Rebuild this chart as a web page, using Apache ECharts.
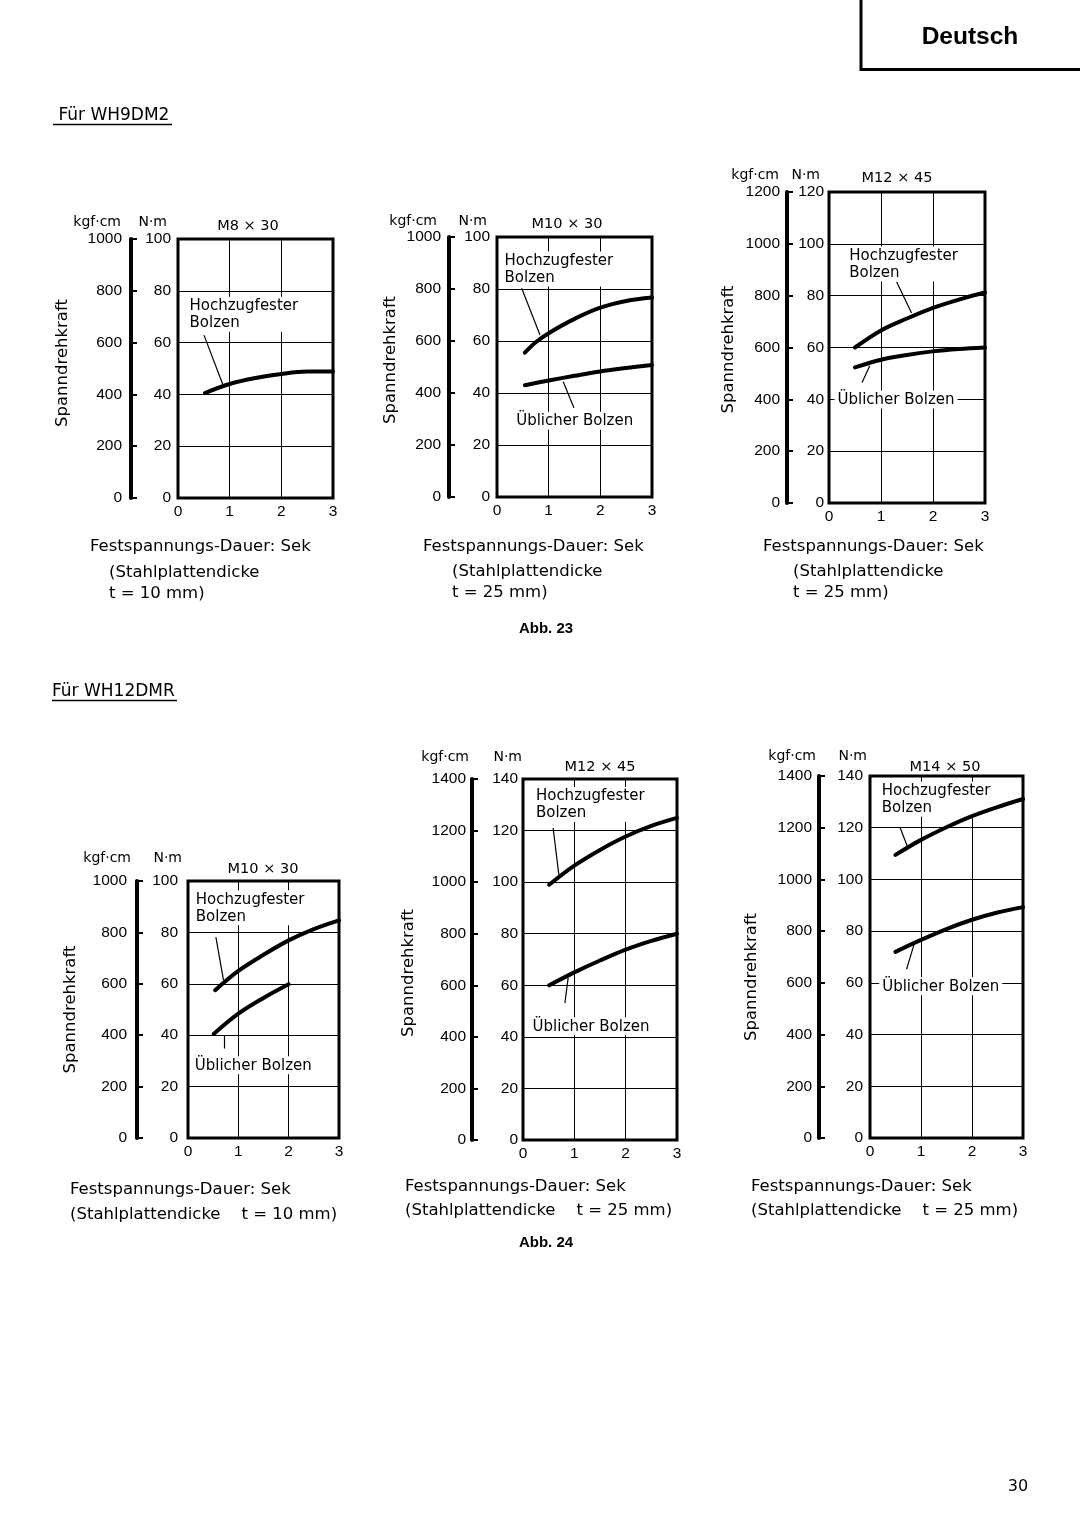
<!DOCTYPE html>
<html><head><meta charset="utf-8">
<script src="https://cdn.jsdelivr.net/npm/echarts@6/dist/echarts.min.js"></script>
<style>html,body{margin:0;padding:0;background:#fff}#c{width:1080px;height:1529px}</style>
</head><body><div id="c"></div><script>
// ---------- DATA ----------
const xMax = 3, xStep = 1;
const nmStep = 20, kgfStep = 200;
const panelTitles = ['M8 × 30', 'M10 × 30', 'M12 × 45', 'M10 × 30', 'M12 × 45', 'M14 × 50'];
const nmMax  = [100, 100, 120, 100, 140, 140];
const kgfMax = [1000, 1000, 1200, 1000, 1400, 1400];
const plateThickness = ['t = 10 mm)', 't = 25 mm)', 't = 25 mm)', 't = 10 mm)', 't = 25 mm)', 't = 25 mm)'];
const curveNames = ['Hochzugfester\nBolzen', 'Üblicher Bolzen'];

// Abb. 23 – Für WH9DM2  (x: Sek, y: N·m)
const wh9_m8x30_hoch  = [[0.52,40.5],[1,44],[1.5,46.3],[2,47.9],[2.5,48.8],[3,48.8]];
const wh9_m10x30_hoch = [[0.54,55.5],[0.75,59.5],[1,63],[1.5,68.5],[2,72.8],[2.5,75.4],[3,76.7]];
const wh9_m10x30_ueb  = [[0.54,43],[1,44.8],[1.5,46.6],[2,48.3],[2.5,49.6],[3,50.8]];
const wh9_m12x45_hoch = [[0.5,60],[1,66.6],[1.5,71.2],[2,75.3],[2.5,78.5],[3,81.2]];
const wh9_m12x45_ueb  = [[0.5,52.3],[1,55.3],[1.5,57.1],[2,58.5],[2.5,59.4],[3,60]];
// Abb. 24 – Für WH12DMR
const wh12_m10x30_hoch = [[0.54,57.5],[1,65],[1.5,71.3],[2,76.9],[2.5,81.3],[3,84.7]];
const wh12_m10x30_ueb  = [[0.51,40.5],[1,48.4],[1.5,54.5],[2,59.8]];
const wh12_m12x45_hoch = [[0.51,99],[1,106.4],[1.5,112.5],[2,117.7],[2.5,121.8],[3,124.9]];
const wh12_m12x45_ueb  = [[0.51,60],[1,65],[1.5,69.6],[2,73.8],[2.5,77.2],[3,80]];
const wh12_m14x50_hoch = [[0.5,109.5],[1,115.3],[1.5,120.2],[2,124.5],[2.5,128],[3,131.1]];
const wh12_m14x50_ueb  = [[0.5,72],[1,76.6],[1.5,80.8],[2,84.4],[2.5,87.2],[3,89.3]];

const panelSeries = [
  [wh9_m8x30_hoch],
  [wh9_m10x30_hoch, wh9_m10x30_ueb],
  [wh9_m12x45_hoch, wh9_m12x45_ueb],
  [wh12_m10x30_hoch, wh12_m10x30_ueb],
  [wh12_m12x45_hoch, wh12_m12x45_ueb],
  [wh12_m14x50_hoch, wh12_m14x50_ueb]
];

// ---------- LAYOUT ----------
const fontText = '"DejaVu Sans", sans-serif';
const fontNum = '"Liberation Sans", Arial, sans-serif';
const layout = [
  {box:[178,239,155,259], kgfOff:47, kgfM:9,  nmM:7,  unitY:222, kgfPad:10, nmPad:11, spGap:60, spPad:[0,0,0,11], title:[248,226],
   xt:{x1:90, x2:109, y:[547,573,594]},
   ann:[{label:[0.174,77.5], leader:[[0.503,62.9],[0.871,43.6]]}]},
  {box:[497,237,155,260], kgfOff:48, kgfM:8,  nmM:7,  unitY:221, kgfPad:12, nmPad:10, spGap:50, spPad:[0,0,0,14], title:[567,224],
   xt:{x1:423, x2:452, y:[547,572,593]},
   ann:[{label:[0.097,94.2], leader:[[0.478,80.3],[0.832,62.3]]},
        {label:[0.323,32.6], leader:[[1.283,44.3],[1.49,34.2]]}]},
  {box:[829,192,156,311], kgfOff:42, kgfM:7,  nmM:5,  unitY:175, kgfPad:8,  nmPad:9,  spGap:50, spPad:[0,4,0,0], title:[897,178],
   xt:{x1:763, x2:793, y:[547,572,593]},
   ann:[{label:[0.341,98.8], leader:[[1.30,85.4],[1.588,73.3]]},
        {label:[0.116,43.2], leader:[[0.636,46.5],[0.784,53.0]]}]},
  {box:[188,881,151,257], kgfOff:51, kgfM:10, nmM:10, unitY:858, kgfPad:6,  nmPad:6,  spGap:58, spPad:[0,0,0,0], title:[263,869],
   xt:{x1:70, y:[1190,1215]},
   ann:[{label:[0.105,96.2], leader:[[0.554,78.2],[0.705,61.4]]},
        {label:[0.085,31.6], leader:[[0.718,40.0],[0.718,34.8]]}]},
  {box:[523,779,154,361], kgfOff:51, kgfM:6,  nmM:5,  unitY:757, kgfPad:3,  nmPad:1,  spGap:55, spPad:[0,27,0,0], title:[600,767],
   xt:{x1:405, y:[1187,1211]},
   ann:[{label:[0.203,136.7], leader:[[0.587,121.0],[0.698,102.9]]},
        {label:[0.137,47.4], leader:[[0.816,53.1],[0.880,63.0]]}]},
  {box:[870,776,153,362], kgfOff:51, kgfM:7,  nmM:7,  unitY:756, kgfPad:3,  nmPad:3,  spGap:59, spPad:[0,40,0,0], title:[945,767],
   xt:{x1:751, y:[1187,1211]},
   ann:[{label:[0.182,137.6], leader:[[0.587,120.2],[0.73,112.9]]},
        {label:[0.19,62.0], leader:[[0.718,65.3],[0.861,74.7]]}]}
];

// ---------- BUILD ----------
const grids = [], xAxes = [], yAxes = [], series = [], graphics = [];
function txt(x, y, text, font, align, vAlign) {
  return {type:'text', x:x, y:y, silent:true,
    style:{text:text, fill:'#000', font:font, align:align || 'left', verticalAlign:vAlign || 'middle'}};
}
function line(x1, y1, x2, y2, w) {
  return {type:'line', silent:true, shape:{x1:x1, y1:y1, x2:x2, y2:y2}, style:{stroke:'#000', lineWidth:w || 1}};
}
const plain = v => String(v);
const numLabel = {color:'#000', fontFamily:fontNum, fontSize:15.5, formatter:plain};
const unitName = {color:'#000', fontFamily:fontText, fontSize:14, align:'right', verticalAlign:'bottom'};

layout.forEach((L, i) => {
  const [gl, gt, gw, gh] = L.box;
  grids.push({left:gl, top:gt, width:gw, height:gh, show:true, borderColor:'#000', borderWidth:3,
    backgroundColor:'rgba(0,0,0,0)', containLabel:false, outerBoundsMode:'none'});
  xAxes.push({gridIndex:i, type:'value', min:0, max:xMax, interval:xStep,
    axisLine:{show:false, onZero:false}, axisTick:{show:false},
    axisLabel:Object.assign({margin:6}, numLabel),
    splitLine:{show:true, lineStyle:{color:'#000', width:1}}});
  // N·m axis (on the plot frame)
  yAxes.push({gridIndex:i, type:'value', min:0, max:nmMax[i], interval:nmStep, position:'left',
    name:'N·m', nameLocation:'end', nameGap:gt - L.unitY - 7, nameMoveOverlap:false,
    nameTextStyle:Object.assign({padding:[0, L.nmPad, 0, 0]}, unitName),
    axisLine:{show:false, onZero:false}, axisTick:{show:false},
    axisLabel:Object.assign({margin:L.nmM}, numLabel),
    splitLine:{show:true, lineStyle:{color:'#000', width:1}}});
  // kgf·cm axis (thick bar)
  yAxes.push({gridIndex:i, type:'value', min:0, max:kgfMax[i], interval:kgfStep, position:'left', offset:L.kgfOff,
    name:'kgf·cm', nameLocation:'end', nameGap:gt - L.unitY - 7, nameMoveOverlap:false,
    nameTextStyle:Object.assign({padding:[0, L.kgfPad, 0, 0]}, unitName),
    axisLine:{show:true, onZero:false, lineStyle:{color:'#000', width:4}},
    axisTick:{show:true, inside:true, length:6, lineStyle:{color:'#000', width:2}},
    axisLabel:Object.assign({margin:L.kgfM}, numLabel),
    splitLine:{show:false}});
  // axis title
  yAxes.push({gridIndex:i, type:'value', min:0, max:kgfMax[i], position:'left', offset:L.kgfOff,
    name:'Spanndrehkraft', nameLocation:'middle', nameGap:L.spGap, nameMoveOverlap:false,
    nameTextStyle:{color:'#000', fontFamily:fontText, fontSize:16.5, padding:L.spPad},
    axisLine:{show:false, onZero:false}, axisTick:{show:false}, axisLabel:{show:false}, splitLine:{show:false}});

  panelSeries[i].forEach((d, k) => {
    const a = L.ann[k];
    series.push({
      type:'line', name:curveNames[k].replace('\n', ' ') + ' ' + panelTitles[i],
      xAxisIndex:i, yAxisIndex:3 * i, data:d, smooth:0.35, showSymbol:false, symbol:'none',
      lineStyle:{color:'#000', width:4, cap:'round'}, z:4,
      markPoint:{silent:true, z:2, symbol:'rect', symbolSize:1, itemStyle:{color:'rgba(0,0,0,0)'},
        label:{show:true, position:[0, 0], formatter:p => p.name, color:'#000',
          fontFamily:fontText, fontSize:15, lineHeight:17, backgroundColor:'#fff', padding:[1, 3, 0, 3]},
        data:[{name:curveNames[k], coord:a.label}]},
      markLine:{silent:true, z:1, symbol:['none', 'none'], label:{show:false},
        lineStyle:{color:'#000', width:1.2, type:'solid'},
        data:[[{coord:a.leader[0]}, {coord:a.leader[1]}]]}
    });
  });

  // panel title
  graphics.push(txt(L.title[0], L.title[1], panelTitles[i], '14.5px ' + fontText, 'center'));
  // x-axis description
  const f = '16.5px ' + fontText;
  if (i < 3) {
    graphics.push(txt(L.xt.x1, L.xt.y[0], 'Festspannungs-Dauer: Sek', f));
    graphics.push(txt(L.xt.x2, L.xt.y[1], '(Stahlplattendicke', f));
    graphics.push(txt(L.xt.x2, L.xt.y[2], plateThickness[i], f));
  } else {
    graphics.push(txt(L.xt.x1, L.xt.y[0], 'Festspannungs-Dauer: Sek', f));
    graphics.push(txt(L.xt.x1, L.xt.y[1], '(Stahlplattendicke    ' + plateThickness[i], f));
  }
});

// page furniture
graphics.push({type:'polyline', silent:true, shape:{points:[[861,0],[861,69.5],[1080,69.5]]},
  style:{stroke:'#000', lineWidth:3, fill:null}});
graphics.push(txt(970, 37, 'Deutsch', 'bold 24.5px "Liberation Sans", Arial, sans-serif', 'center'));
graphics.push(txt(53, 116, ' Für WH9DM2', '17px ' + fontText));
graphics.push(line(53, 124.5, 172, 124.5, 1.3));
graphics.push(txt(52, 692, 'Für WH12DMR', '17px ' + fontText));
graphics.push(line(52, 700.5, 177, 700.5, 1.3));
graphics.push(txt(546, 629, 'Abb. 23', 'bold 15px "Liberation Sans", Arial, sans-serif', 'center'));
graphics.push(txt(546, 1243, 'Abb. 24', 'bold 15px "Liberation Sans", Arial, sans-serif', 'center'));
graphics.push(txt(1018, 1487, '30', '16px ' + fontText, 'center'));

const chart = echarts.init(document.getElementById('c'), null, {renderer:'canvas'});
chart.setOption({
  animation:false, backgroundColor:'#fff',
  grid:grids, xAxis:xAxes, yAxis:yAxes, series:series, graphic:graphics
});
</script></body></html>
